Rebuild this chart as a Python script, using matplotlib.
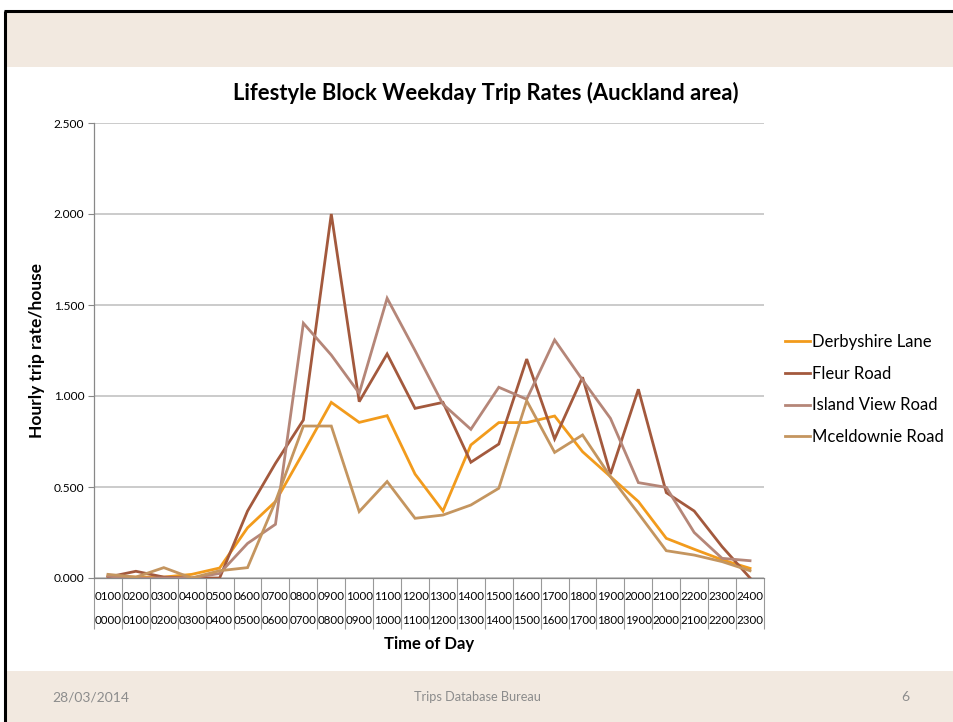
import matplotlib
matplotlib.use("Agg")
import matplotlib.pyplot as plt
import matplotlib.transforms as mtransforms
from matplotlib.patches import Rectangle
from matplotlib.lines import Line2D

plt.rcParams['font.family'] = ['Lato', 'DejaVu Sans']

# ---------------- data ----------------
top_labels = ["0100", "0200", "0300", "0400", "0500", "0600", "0700", "0800",
              "0900", "1000", "1100", "1200", "1300", "1400", "1500", "1600",
              "1700", "1800", "1900", "2000", "2100", "2200", "2300", "2400"]
bottom_labels = ["0000", "0100", "0200", "0300", "0400", "0500", "0600", "0700",
                 "0800", "0900", "1000", "1100", "1200", "1300", "1400", "1500",
                 "1600", "1700", "1800", "1900", "2000", "2100", "2200", "2300"]

derbyshire = [0.010, 0.005, 0.005, 0.020, 0.055, 0.276, 0.420, 0.690,
              0.965, 0.855, 0.892, 0.571, 0.368, 0.731, 0.854, 0.854,
              0.890, 0.694, 0.557, 0.420, 0.218, 0.158, 0.100, 0.053]
fleur = [0.005, 0.037, 0.005, 0.000, 0.000, 0.368, 0.630, 0.868,
         2.000, 0.969, 1.231, 0.932, 0.965, 0.636, 0.736, 1.203,
         0.764, 1.103, 0.571, 1.037, 0.469, 0.368, 0.172, 0.000]
island_view = [0.010, 0.000, 0.000, 0.000, 0.025, 0.190, 0.295, 1.400,
               1.225, 1.015, 1.537, 1.250, 0.955, 0.817, 1.048, 0.982,
               1.308, 1.088, 0.877, 0.524, 0.498, 0.250, 0.108, 0.095]
mceldownie = [0.020, 0.005, 0.057, 0.000, 0.040, 0.057, 0.420, 0.835,
              0.835, 0.365, 0.530, 0.328, 0.346, 0.401, 0.493, 0.974,
              0.690, 0.786, 0.557, 0.355, 0.150, 0.126, 0.090, 0.040]

series_names = ["Derbyshire Lane", "Fleur Road", "Island View Road", "Mceldownie Road"]
series_values = [derbyshire, fleur, island_view, mceldownie]
series_colors = ["#F29B1C", "#A3593D", "#B58678", "#C4955F"]

yticks = [0.0, 0.5, 1.0, 1.5, 2.0, 2.5]

title = "Lifestyle Block Weekday Trip Rates (Auckland area)"
ylabel = "Hourly trip rate/house"
xlabel = "Time of Day"
footer_left = "28/03/2014"
footer_mid = "Trips Database Bureau"
footer_right = "6"

# ---------------- figure ----------------
W, H = 954, 722
fig = plt.figure(figsize=(W / 100, H / 100), dpi=100)
fig.patch.set_facecolor("white")

def px(x, y):
    return x / W, 1 - y / H

beige = "#F2E9E0"
fig.patches.append(Rectangle(px(6, 67), (W - 6) / W, 55 / H, transform=fig.transFigure,
                             facecolor=beige, edgecolor="none", zorder=0))
fig.patches.append(Rectangle(px(6, 722), (W - 6) / W, 51 / H, transform=fig.transFigure,
                             facecolor=beige, edgecolor="none", zorder=0))
fig.lines.append(Line2D([4 / W, 1.01], [1 - 10.5 / H, 1 - 10.5 / H], transform=fig.transFigure,
                        color="black", linewidth=2.2, zorder=1, solid_capstyle="butt"))
fig.lines.append(Line2D([5 / W, 5 / W], [-0.01, 1 - 10.5 / H], transform=fig.transFigure,
                        color="black", linewidth=2.2, zorder=1, solid_capstyle="butt"))

ax_l, ax_r, ax_t, ax_b = 94, 764, 123, 578
ax = fig.add_axes([ax_l / W, 1 - ax_b / H, (ax_r - ax_l) / W, (ax_b - ax_t) / H])
ax.set_facecolor("white")

n = len(top_labels)
xs = list(range(n))
for name, vals, col in zip(series_names, series_values, series_colors):
    ax.plot(xs, vals, color=col, linewidth=2.0, label=name, solid_joinstyle="miter", zorder=3)

ax.set_xlim(-0.5, n - 0.5)
ax.set_ylim(0, 2.5)
ax.set_yticks(yticks)
ax.set_yticklabels([f"{v:.3f}" for v in yticks], fontsize=8.6, color="#000000")
ax.yaxis.grid(True, color="#BDBDBD", linewidth=1.1)
ax.set_axisbelow(True)
ax.tick_params(axis="y", length=4, width=0.8, color="#888888", pad=3)

for s in ["top", "right"]:
    ax.spines[s].set_visible(False)
ax.spines["left"].set_color("#888888")
ax.spines["bottom"].set_color("#888888")
ax.spines["left"].set_linewidth(0.9)
ax.spines["bottom"].set_linewidth(0.9)

ax.set_xticks([i - 0.5 for i in range(n + 1)])
ax.set_xticklabels([])
ax.tick_params(axis="x", length=37, width=0.8, color="#999999")
trans = mtransforms.blended_transform_factory(ax.transData, ax.transAxes)
row1_y = -(596 - ax_b) / (ax_b - ax_t)
row2_y = -(620 - ax_b) / (ax_b - ax_t)
for i in range(n):
    ax.text(i, row1_y, top_labels[i], transform=trans, ha="center", va="center",
            fontsize=8.3, color="#000000")
    ax.text(i, row2_y, bottom_labels[i], transform=trans, ha="center", va="center",
            fontsize=8.3, color="#000000")

ax.text(0.5, -(644 - ax_b) / (ax_b - ax_t), xlabel, transform=ax.transAxes,
        ha="center", va="center", fontsize=12, fontweight="bold")
fig.text(37 / W, 1 - 350 / H, ylabel, rotation=90, ha="center", va="center",
         fontsize=12.5, fontweight="bold")
fig.text(486 / W, 1 - 93 / H, title, ha="center", va="center", fontsize=15.8,
         fontweight="bold")

leg = ax.legend(loc="center left", bbox_to_anchor=(778 / W, 1 - 389.5 / H),
                bbox_transform=fig.transFigure, frameon=False, fontsize=12,
                handlelength=1.5, handletextpad=0.15, labelspacing=0.95,
                borderaxespad=0)

fcol = "#8C8C8C"
fig.text(91 / W, 1 - 697 / H, footer_left, ha="center", va="center", fontsize=10, color=fcol)
fig.text(477 / W, 1 - 697 / H, footer_mid, ha="center", va="center", fontsize=9.2, color=fcol)
fig.text(905 / W, 1 - 697 / H, footer_right, ha="center", va="center", fontsize=10, color=fcol)

fig.savefig("out.png", dpi=100, facecolor=fig.get_facecolor())
